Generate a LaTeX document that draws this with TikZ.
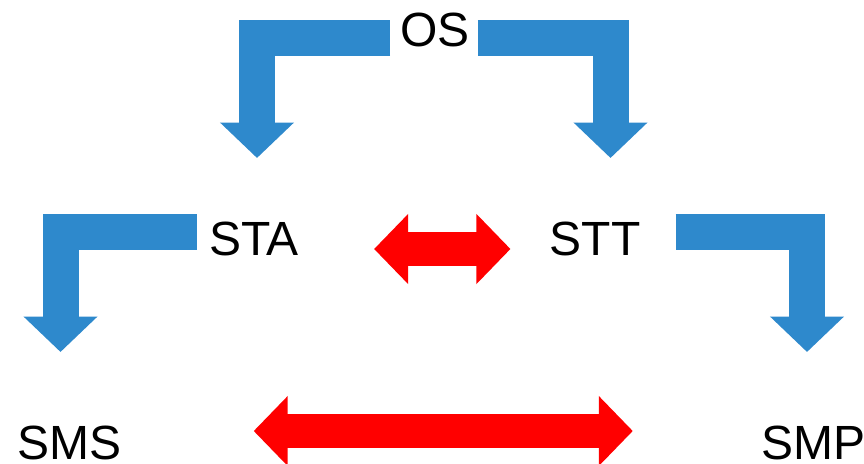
\documentclass[tikz,border=0pt]{standalone}
\usepackage{fontspec}
\setmainfont{Liberation Sans}
\usetikzlibrary{arrows.meta,calc}
\definecolor{flowblue}{RGB}{46,137,204}
\begin{document}
\begin{tikzpicture}[x=1pt,y=-1pt,line join=miter,
font=\fontsize{48}{58}\selectfont]
   \tikzstyle{lbl}=[inner sep=0pt,anchor=base]
   \tikzstyle{flow}=[draw=flowblue,line width=36pt,
     -{Triangle[width=72pt,length=35.5pt]}]
   \tikzstyle{swap}=[draw=red,line width=34pt,
     {Triangle[width=68pt,length=34pt]}-{Triangle[width=68pt,length=34pt]}]
\useasboundingbox (0,0) rectangle (864,463);
\node[lbl] (OS)  at (435,46)  {OS};
\node[lbl] (STA) at (254,255) {STA};
\node[lbl] (STT) at (595,255) {STT};
\node[lbl] (SMS) at (69.5,459) {SMS};
\node[lbl] (SMP) at (813,459) {SMP};

\draw[flow] ([shift={(-10,-8)}]OS.base west) -| ([shift={(3,-97)}]STA.base);
\draw[flow] ([shift={(8,-8)}]OS.base east) -| ([shift={(15.5,-97)}]STT.base);
\draw[flow] ([shift={(-12,-23)}]STA.base west) -| ([shift={(-9,-107)}]SMS.base);
\draw[flow] ([shift={(35,-23)}]STT.base east) -| ([shift={(-6,-107)}]SMP.base);

\draw[swap] ([shift={(75,-6)}]STA.base east) -- ([shift={(-39,-6)}]STT.base west);
\draw[swap] ([shift={(132,-28)}]SMS.base east) -- ([shift={(-128,-28)}]SMP.base west);
\end{tikzpicture}
\end{document}
